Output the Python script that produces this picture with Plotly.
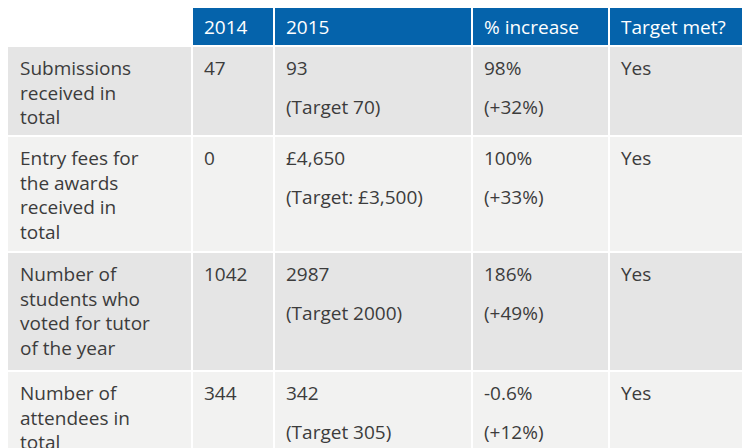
import plotly.graph_objects as go

headers = ["", "2014", "2015", "% increase", "Target met?"]
labels = ["Submissions<br>received in<br>total",
          "Entry fees for<br>the awards<br>received in<br>total",
          "Number of<br>students who<br>voted for tutor<br>of the year",
          "Number of<br>attendees in<br>total"]
v2014 = ["47", "0", "1042", "344"]
v2015 = ["93", "£4,650", "2987", "342"]
targets = ["(Target 70)", "(Target: £3,500)", "(Target 2000)", "(Target 305)"]
increase = ["98%", "100%", "186%", "-0.6%"]
over_target = ["(+32%)", "(+33%)", "(+49%)", "(+12%)"]
met = ["Yes", "Yes", "Yes", "Yes"]

col_edges = [0, 184, 266, 464, 601, 750]
row_edges = [0, 38, 128, 244, 363, 450]
blue = "#0563ab"
row_fill = ["#e5e5e5", "#f2f2f1"]
txt = "#3c3c3c"
font = "Open Sans"
fs = 19

fig = go.Figure()
shapes, ann = [], []
gap = 1
for r in range(5):
    for c in range(5):
        if r == 0:
            fill = "white" if c == 0 else blue
        else:
            fill = row_fill[(r - 1) % 2]
        shapes.append(dict(type="rect", xref="x", yref="y", line_width=0, fillcolor=fill,
                           x0=col_edges[c] + (gap if c else 0), x1=col_edges[c + 1] - gap,
                           y0=row_edges[r] + (gap if r else 0), y1=row_edges[r + 1] - gap,
                           layer="below"))

for c, h in enumerate(headers):
    if h:
        ann.append(dict(x=col_edges[c] + 10, y=19, text=h, xanchor="left", yanchor="middle",
                        showarrow=False, font=dict(color="white", size=fs, family=font)))

for i in range(4):
    top = row_edges[i + 1]
    cols = [labels[i], v2014[i], v2015[i], increase[i], met[i]]
    for c, t in enumerate(cols):
        ann.append(dict(x=col_edges[c] + 10, y=top + 7, text=t, xanchor="left", yanchor="top",
                        align="left", showarrow=False, font=dict(color=txt, size=fs, family=font)))
    for c, t in [(2, targets[i]), (3, over_target[i])]:
        ann.append(dict(x=col_edges[c] + 10, y=top + 46, text=t, xanchor="left", yanchor="top",
                        align="left", showarrow=False, font=dict(color=txt, size=fs, family=font)))

fig.update_layout(width=750, height=448, margin=dict(l=0, r=0, t=0, b=0),
                  plot_bgcolor="white", paper_bgcolor="white",
                  shapes=shapes, annotations=ann,
                  xaxis=dict(range=[0, 750], visible=False, fixedrange=True),
                  yaxis=dict(range=[448, 0], visible=False, fixedrange=True))
fig.write_html("out.html")
